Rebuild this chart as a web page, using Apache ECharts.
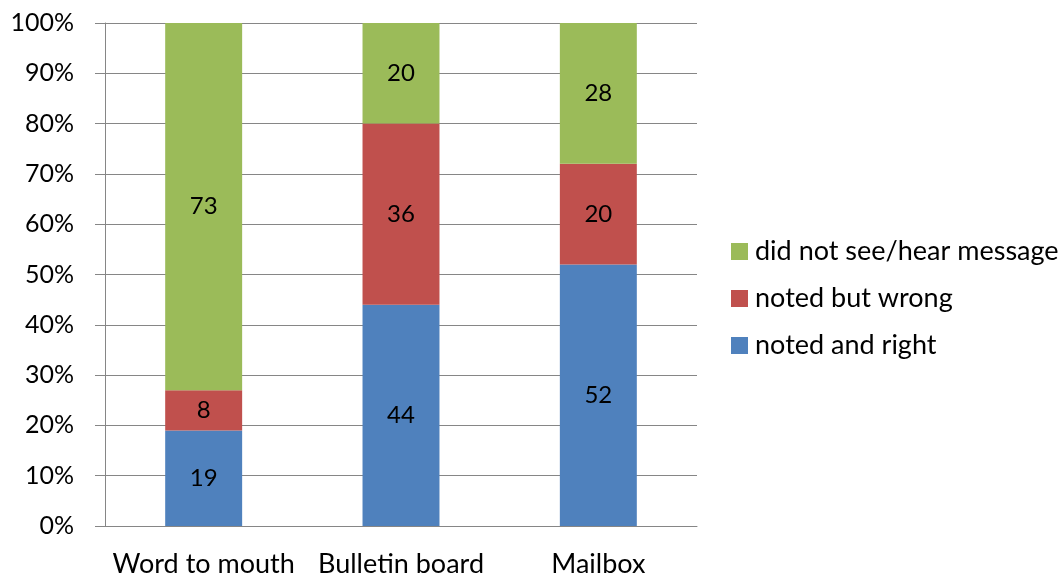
<!DOCTYPE html>
<html>
<head>
<meta charset="utf-8">
<script src="https://cdn.jsdelivr.net/npm/echarts@6/dist/echarts.min.js"></script>
<style>
  html, body { margin: 0; padding: 0; background: #fff; }
  #main { width: 1064px; height: 575px; }
</style>
</head>
<body>
<div id="main"></div>
<script>
const categories = ["Word to mouth", "Bulletin board", "Mailbox"];
const notedRight = [19, 44, 52];
const notedWrong = [8, 36, 20];
const didNotSee = [73, 20, 28];
const yTicks = [0, 10, 20, 30, 40, 50, 60, 70, 80, 90, 100];

const font = "Lato, 'Open Sans', sans-serif";

let chart = echarts.init(document.getElementById("main"));

let barLabel = {
  show: true,
  position: "inside",
  color: "#000",
  fontSize: 24,
  fontFamily: font,
};

let option = {
  animation: false,
  textStyle: { fontFamily: font },
  grid: { left: 105, right: 367, top: 23, bottom: 49, outerBoundsMode: "none" },
  legend: {
    orient: "vertical",
    left: 726,
    top: 233,
    itemWidth: 17,
    itemHeight: 17,
    itemGap: 20,
    icon: "rect",
    textStyle: { fontSize: 27, color: "#000", fontFamily: font, padding: [0, 0, 0, 2] },
    data: ["did not see/hear message", "noted but wrong", "noted and right"],
  },
  xAxis: {
    type: "category",
    data: categories,
    axisLine: { lineStyle: { color: "#868686" } },
    axisTick: { length: 10, lineStyle: { color: "#868686" } },
    axisLabel: { color: "#000", fontSize: 27, margin: 25, interval: 0, hideOverlap: false, fontFamily: font },
  },
  yAxis: {
    type: "value",
    min: yTicks[0],
    max: yTicks[yTicks.length - 1],
    interval: 10,
    axisLine: { show: true, lineStyle: { color: "#868686" } },
    axisTick: { show: true, length: 10, lineStyle: { color: "#868686" } },
    splitLine: { lineStyle: { color: "#868686" } },
    axisLabel: { formatter: "{value}%", color: "#000", fontSize: 25, margin: 31, fontFamily: font },
  },
  series: [
    {
      name: "noted and right",
      type: "bar",
      stack: "total",
      barWidth: "39%",
      data: notedRight,
      itemStyle: { color: "#4F81BD" },
      label: barLabel,
    },
    {
      name: "noted but wrong",
      type: "bar",
      stack: "total",
      data: notedWrong,
      itemStyle: { color: "#C0504D" },
      label: barLabel,
    },
    {
      name: "did not see/hear message",
      type: "bar",
      stack: "total",
      data: didNotSee,
      itemStyle: { color: "#9BBB59" },
      label: barLabel,
    },
  ],
};
chart.setOption(option);
</script>
</body>
</html>
